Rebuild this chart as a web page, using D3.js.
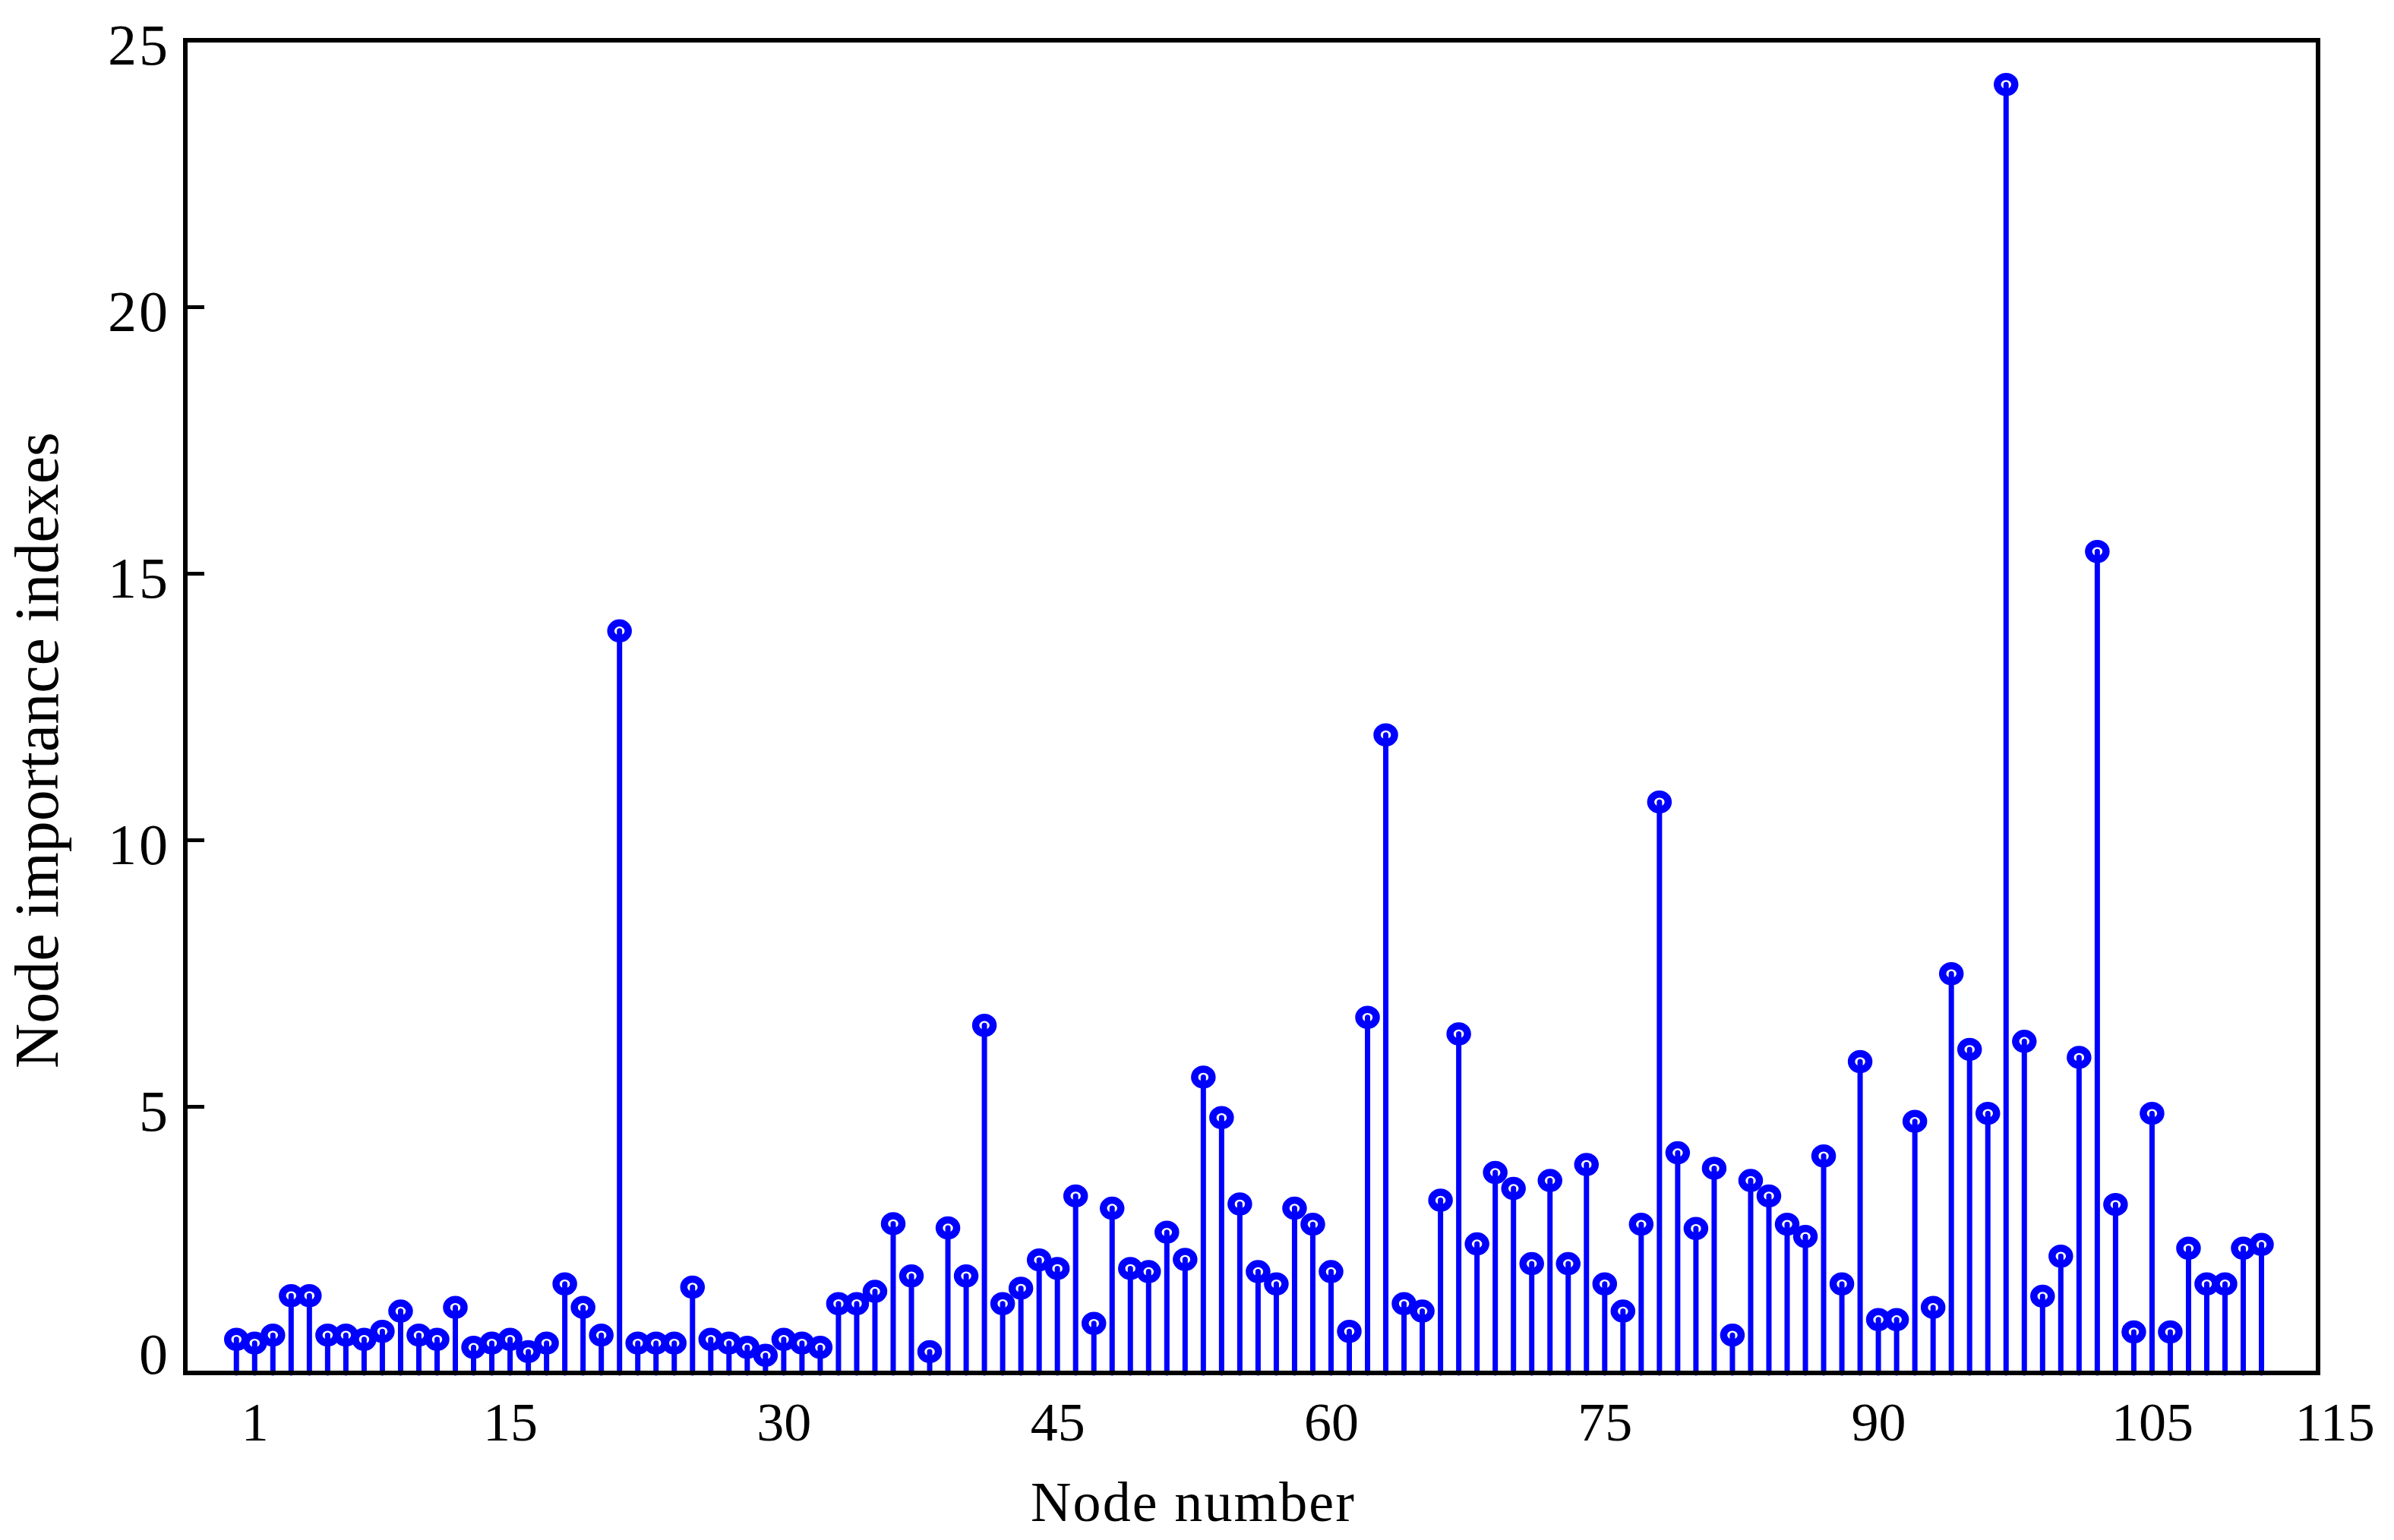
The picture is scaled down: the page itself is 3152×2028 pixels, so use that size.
<!DOCTYPE html>
<html>
<head>
<meta charset="utf-8">
<script src="https://cdn.jsdelivr.net/npm/d3@7"></script>
<style>
  html, body { margin: 0; padding: 0; background: #ffffff; }
  svg { display: block; }
</style>
</head>
<body>
<div id="chart"></div>
<script>
// ---- data ----
const importance = [
  0.63, 0.56, 0.71, 1.45, 1.45, 0.71, 0.71, 0.63, 0.78, 1.16,
  0.71, 0.63, 1.23, 0.48, 0.56, 0.63, 0.40, 0.56, 1.67, 1.23,
  0.71, 13.92, 0.56, 0.56, 0.56, 1.61, 0.63, 0.56, 0.48, 0.33,
  0.63, 0.56, 0.48, 1.30, 1.30, 1.53, 2.80, 1.82, 0.40, 2.72,
  1.82, 6.52, 1.30, 1.59, 2.12, 1.96, 3.32, 0.93, 3.09, 1.96,
  1.90, 2.64, 2.13, 5.55, 4.79, 3.17, 1.90, 1.67, 3.09, 2.79,
  1.90, 0.78, 6.67, 11.97, 1.30, 1.16, 3.24, 6.36, 2.42, 3.76,
  3.46, 2.05, 3.61, 2.05, 3.91, 1.67, 1.16, 2.79, 10.71, 4.13,
  2.71, 3.84, 0.71, 3.61, 3.32, 2.79, 2.56, 4.07, 1.67, 5.84,
  1.00, 1.00, 4.72, 1.23, 7.49, 6.07, 4.87, 24.17, 6.22, 1.44,
  2.19, 5.92, 15.41, 3.16, 0.77, 4.87, 0.77, 2.34, 1.67, 1.67,
  2.34, 2.41
];
const xTickValues = [1, 15, 30, 45, 60, 75, 90, 105, 115];
const yTickValues = [0, 5, 10, 15, 20, 25];
const xDomain = [-2.8, 114.1];
const yDomain = [0, 25];
const xTitle = "Node number";
const yTitle = "Node importance indexes";

// ---- layout ----
const W = 3152, H = 2028;
const plot = { left: 244, right: 3052, top: 53, bottom: 1808 };
const blue = "#0000ff";
const serif = "'Liberation Serif', 'Times New Roman', serif";

const svg = d3.select("#chart").append("svg")
  .attr("width", W).attr("height", H)
  .attr("viewBox", `0 0 ${W} ${H}`);

svg.append("rect").attr("width", W).attr("height", H).attr("fill", "#ffffff");

const x = d3.scaleLinear().domain(xDomain).range([plot.left, plot.right]);
const y = d3.scaleLinear().domain(yDomain).range([plot.bottom, plot.top]);

// stems
const g = svg.append("g");
g.selectAll("line.stem").data(importance).enter().append("line")
  .attr("class", "stem")
  .attr("x1", (d, i) => x(i)).attr("x2", (d, i) => x(i))
  .attr("y1", y(0)).attr("y2", d => y(d))
  .attr("stroke", blue).attr("stroke-width", 7)
  .attr("stroke-linecap", "round");

// markers (open circles)
g.selectAll("ellipse.mk").data(importance).enter().append("ellipse")
  .attr("class", "mk")
  .attr("cx", (d, i) => x(i)).attr("cy", d => y(d))
  .attr("rx", 11.5).attr("ry", 10.5)
  .attr("fill", "none").attr("stroke", blue).attr("stroke-width", 9.5);

// frame
svg.append("rect")
  .attr("x", plot.left).attr("y", plot.top)
  .attr("width", plot.right - plot.left).attr("height", plot.bottom - plot.top)
  .attr("fill", "none").attr("stroke", "#000").attr("stroke-width", 6);

// y axis (ticks inward)
const yAxis = d3.axisLeft(y).tickValues(yTickValues).tickFormat(d3.format("d"))
  .tickSizeInner(-25).tickSizeOuter(0).tickPadding(20);
const yg = svg.append("g").attr("transform", `translate(${plot.left},0)`).call(yAxis);
yg.select(".domain").remove();
yg.selectAll(".tick line").attr("stroke", "#000").attr("stroke-width", 5);
yg.selectAll(".tick text")
  .attr("font-family", serif)
  .attr("font-size", 76).attr("fill", "#000")
  .attr("letter-spacing", 3)
  .attr("dy", d => d === 0 ? "0em" : "0.42em");

// x axis (labels only)
const xAxis = d3.axisBottom(x).tickValues(xTickValues).tickFormat(d3.format("d"))
  .tickSize(0).tickPadding(38);
const xg = svg.append("g").attr("transform", `translate(0,${plot.bottom})`).call(xAxis);
xg.select(".domain").remove();
xg.selectAll(".tick text")
  .attr("font-family", serif)
  .attr("font-size", 72).attr("fill", "#000");

// axis titles
svg.append("text")
  .attr("x", 1570).attr("y", 2003)
  .attr("text-anchor", "middle")
  .attr("font-family", serif)
  .attr("font-size", 74).attr("fill", "#000")
  .attr("textLength", 426).attr("lengthAdjust", "spacing")
  .text(xTitle);

svg.append("text")
  .attr("transform", "translate(76,988) rotate(-90)")
  .attr("text-anchor", "middle")
  .attr("font-family", serif)
  .attr("font-size", 82).attr("fill", "#000")
  .text(yTitle);
</script>
</body>
</html>
